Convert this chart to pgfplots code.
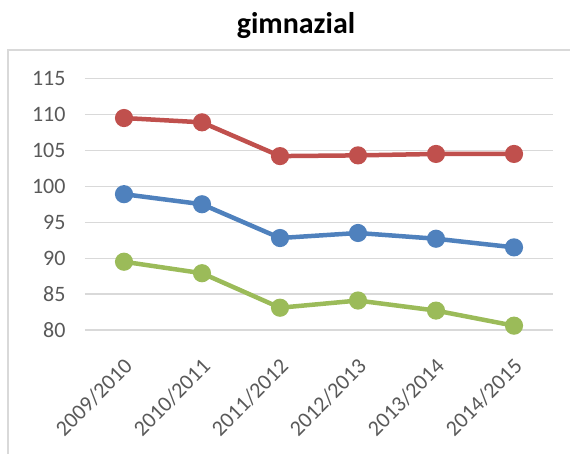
\documentclass[border=0pt]{standalone}
\usepackage{fontspec}
\setmainfont{Carlito}
\usepackage{pgfplots}
\pgfplotsset{compat=1.18}
\definecolor{sred}{HTML}{C0504D}
\definecolor{sblue}{HTML}{4F81BD}
\definecolor{sgreen}{HTML}{9BBB59}
\definecolor{gridc}{HTML}{D9D9D9}
\definecolor{framec}{HTML}{D9D9D9}
\definecolor{labc}{HTML}{595959}
\begin{document}
\begin{tikzpicture}
\begin{axis}[
  at={(0pt,0pt)}, anchor=south west,
  scale only axis,
  width=468pt, height=251.5pt,
  xmin=-0.5, xmax=5.5,
  ymin=80, ymax=115,
  ytick={80,85,...,115},
  xtick={0,...,5},
  xticklabels={2009/2010,2010/2011,2011/2012,2012/2013,2013/2014,2014/2015},
  axis line style={draw=none},
  major tick length=0pt,
  ymajorgrids,
  grid style={gridc, line width=1.2pt},
  /pgf/number format/assume math mode=true,
  tick label style={font=\fontsize{22}{25}\selectfont, text=labc},
  yticklabel style={anchor=east, xshift=-16pt},
  xticklabel style={rotate=45, anchor=north east, inner sep=0pt, xshift=-20pt, yshift=-18pt},
  clip=false,
]
\addplot[sred, line width=4.5pt, mark=*, mark size=6.8pt] coordinates {
  (0,109.5) (1,108.9) (2,104.2) (3,104.3) (4,104.5) (5,104.5)
};
\addplot[sblue, line width=4.5pt, mark=*, mark size=6.8pt] coordinates {
  (0,98.9) (1,97.5) (2,92.8) (3,93.5) (4,92.7) (5,91.5)
};
\addplot[sgreen, line width=4.5pt, mark=*, mark size=6.8pt] coordinates {
  (0,89.5) (1,87.9) (2,83.1) (3,84.1) (4,82.7) (5,80.6)
};
\end{axis}
\draw[framec, line width=1.5pt] (-77pt,-124pt) -- (-77pt,280pt) -- (485pt,280pt);
\node[font=\fontsize{30}{34}\selectfont\bfseries, text=black] at (211pt,304pt) {gimnazial};
\pgfresetboundingbox
\path[use as bounding box] (-85pt,-124pt) rectangle (485pt,330pt);
\end{tikzpicture}
\end{document}
